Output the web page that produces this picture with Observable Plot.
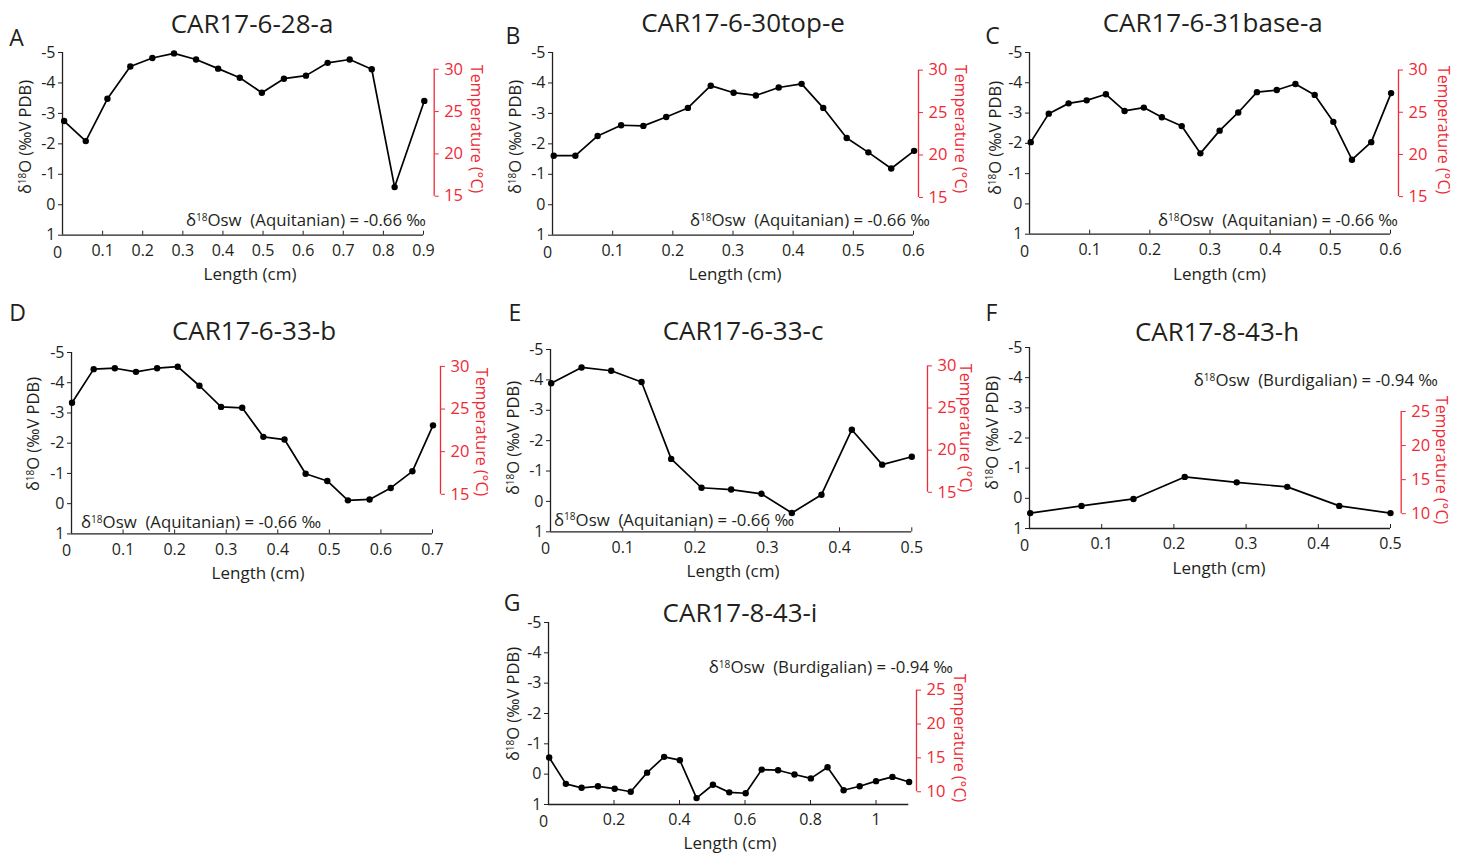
<!DOCTYPE html>
<html>
<head>
<meta charset="utf-8">
<script src="https://cdn.jsdelivr.net/npm/d3@7"></script>
<script src="https://cdn.jsdelivr.net/npm/@observablehq/plot@0.6"></script>
<style>
  body { margin: 0; background: #fff; }
  #fig { position: relative; width: 1470px; height: 858px; overflow: hidden;
         font-family: "Open Sans", sans-serif; color: #231f20; }
  .t { position: absolute; white-space: nowrap; line-height: 1; }
  .c { transform: translate(-50%, -50%); }
  .l { transform: translate(0, -50%); }
  .r { transform: translate(-100%, -50%); }
  .up { transform: translate(-50%, -50%) rotate(-90deg); }
  .down { transform: translate(-50%, -50%) rotate(90deg); }
  .letter { font-size: 23px; }
  .title { font-size: 26px; }
  .lab { font-size: 17px; }
  .ylab { font-size: 16.5px; }
  .tlab { font-size: 16px; }
  .note { font-size: 16.8px; }
  .red { color: #ee2a36; }
  sup { font-size: 0.6em; vertical-align: baseline; position: relative; top: -0.5em; }
  svg { position: absolute; }
</style>
</head>
<body>
<div id="fig"></div>
<script>
// Stable-isotope profiles (δ18O, ‰ VPDB) along the length of each specimen (cm)
const lenA  = [0.004, 0.058, 0.112, 0.169, 0.224, 0.278, 0.333, 0.388, 0.442, 0.497, 0.552, 0.607, 0.661, 0.716, 0.771, 0.828, 0.902];
const d18oA = [-2.75, -2.09, -3.48, -4.54, -4.82, -4.97, -4.77, -4.47, -4.17, -3.68, -4.14, -4.24, -4.66, -4.77, -4.45, -0.58, -3.41];

const lenB  = [0.002, 0.038, 0.075, 0.114, 0.151, 0.189, 0.225, 0.263, 0.301, 0.338, 0.376, 0.414, 0.450, 0.489, 0.525, 0.563, 0.601];
const d18oB = [-1.61, -1.61, -2.26, -2.61, -2.59, -2.88, -3.18, -3.91, -3.68, -3.59, -3.85, -3.97, -3.18, -2.19, -1.72, -1.19, -1.77];

const lenC  = [0.002, 0.032, 0.065, 0.095, 0.127, 0.158, 0.190, 0.220, 0.253, 0.284, 0.316, 0.347, 0.378, 0.411, 0.442, 0.474, 0.505, 0.536, 0.568, 0.601];
const d18oC = [-2.04, -2.98, -3.32, -3.42, -3.62, -3.07, -3.18, -2.86, -2.57, -1.67, -2.42, -3.02, -3.69, -3.76, -3.96, -3.60, -2.71, -1.46, -2.04, -3.66];

const lenD  = [0.001, 0.043, 0.084, 0.125, 0.166, 0.206, 0.248, 0.290, 0.331, 0.372, 0.413, 0.454, 0.496, 0.536, 0.578, 0.619, 0.661, 0.701];
const d18oD = [-3.34, -4.45, -4.48, -4.36, -4.48, -4.53, -3.90, -3.20, -3.17, -2.21, -2.12, -0.99, -0.75, -0.11, -0.14, -0.52, -1.07, -2.59];

const lenE  = [0.001, 0.043, 0.084, 0.126, 0.167, 0.209, 0.250, 0.292, 0.334, 0.375, 0.417, 0.459, 0.500];
const d18oE = [-3.89, -4.41, -4.30, -3.93, -1.40, -0.45, -0.39, -0.25, 0.38, -0.22, -2.36, -1.21, -1.47];

const lenF  = [0.001, 0.072, 0.144, 0.215, 0.287, 0.357, 0.429, 0.500];
const d18oF = [0.49, 0.25, 0.02, -0.71, -0.53, -0.38, 0.25, 0.49];

const lenG  = [0.002, 0.053, 0.101, 0.151, 0.202, 0.251, 0.301, 0.353, 0.401, 0.452, 0.502, 0.552, 0.602, 0.651, 0.701, 0.751, 0.801, 0.852, 0.901, 0.950, 1.000, 1.050, 1.101];
const d18oG = [-0.55, 0.32, 0.45, 0.40, 0.48, 0.58, -0.05, -0.57, -0.46, 0.79, 0.35, 0.60, 0.63, -0.15, -0.13, 0.01, 0.14, -0.23, 0.53, 0.40, 0.23, 0.09, 0.26];

// Axis ticks
const d18oTicks = [-5, -4, -3, -2, -1, 0, 1];
const lenTicks09 = [0, 0.1, 0.2, 0.3, 0.4, 0.5, 0.6, 0.7, 0.8, 0.9];
const lenTicks06 = [0, 0.1, 0.2, 0.3, 0.4, 0.5, 0.6];
const lenTicks07 = [0, 0.1, 0.2, 0.3, 0.4, 0.5, 0.6, 0.7];
const lenTicks05 = [0, 0.1, 0.2, 0.3, 0.4, 0.5];
const lenTicks11 = [0, 0.2, 0.4, 0.6, 0.8, 1];
const tempTicksAquitanian = [15, 20, 25, 30];
const tempTicksBurdigalian = [10, 15, 20, 25];

// Temperature ↔ δ18O correspondence for each secondary axis: [temperature °C], [δ18O ‰]
const calA = {t: [15, 30], d: [-0.28, -4.45]};
const calB = {t: [15, 30], d: [-0.24, -4.42]};
const calC = {t: [15, 30], d: [-0.24, -4.42]};
const calD = {t: [15, 30], d: [-0.31, -4.54]};
const calE = {t: [15, 30], d: [-0.30, -4.46]};
const calF = {t: [10, 25], d: [0.51, -2.88]};
const calG = {t: [10, 25], d: [0.58, -2.77]};

// Specimen names and seawater δ18O notes
const names = ["CAR17-6-28-a", "CAR17-6-30top-e", "CAR17-6-31base-a", "CAR17-6-33-b", "CAR17-6-33-c", "CAR17-8-43-h", "CAR17-8-43-i"];
const letters = ["A", "B", "C", "D", "E", "F", "G"];
const noteAquitanian = "δ<sup>18</sup>Osw&nbsp; (Aquitanian) = -0.66 ‰";
const noteBurdigalian = "δ<sup>18</sup>Osw&nbsp; (Burdigalian) = -0.94 ‰";

const INK = "#231f20";
const RED = "#ee2a36";

// Page layout for each panel (pixels): plot frame [left, right, top, bottom], offset of the
// temperature axis, and centres of the surrounding labels.
const panels = [
  {len: lenA, d18o: d18oA, xMax: 0.9, xTicks: lenTicks09, tTicks: tempTicksAquitanian, cal: calA, note: noteAquitanian,
   frame: [62.3, 423.3, 52.3, 235], redDx: 10.7, letter: [16.5, 37], title: [252, 22.5], ylab: [25, 137], xlab: [250, 273], tlab: [477, 129], notePos: [426, 220, "r"]},
  {len: lenB, d18o: d18oB, xMax: 0.6, xTicks: lenTicks06, tTicks: tempTicksAquitanian, cal: calB, note: noteAquitanian,
   frame: [552.3, 913.3, 52.3, 235], redDx: 5, letter: [513, 35], title: [743, 22], ylab: [515, 137], xlab: [735, 273], tlab: [960.5, 129], notePos: [930, 220, "r"]},
  {len: lenC, d18o: d18oC, xMax: 0.6, xTicks: lenTicks06, tTicks: tempTicksAquitanian, cal: calC, note: noteAquitanian,
   frame: [1029, 1390, 52.3, 234], redDx: 8, letter: [992.5, 35], title: [1212.7, 22], ylab: [995, 137.5], xlab: [1219.5, 273], tlab: [1444, 130], notePos: [1398, 220, "r"]},
  {len: lenD, d18o: d18oD, xMax: 0.7, xTicks: lenTicks07, tTicks: tempTicksAquitanian, cal: calD, note: noteAquitanian,
   frame: [71, 432, 352.3, 533.7], redDx: 8, letter: [17.5, 311.5], title: [254, 330], ylab: [33, 434], xlab: [258, 572], tlab: [482, 431.7], notePos: [81, 522, "l"]},
  {len: lenE, d18o: d18oE, xMax: 0.5, xTicks: lenTicks05, tTicks: tempTicksAquitanian, cal: calE, note: noteAquitanian,
   frame: [550, 911.3, 348.7, 531], redDx: 15.7, letter: [515, 311.7], title: [743, 330], ylab: [513, 437.5], xlab: [733, 570], tlab: [965.7, 428.3], notePos: [554, 519.5, "l"]},
  {len: lenF, d18o: d18oF, xMax: 0.5, xTicks: lenTicks05, tTicks: tempTicksBurdigalian, cal: calF, note: noteBurdigalian,
   frame: [1029, 1390, 347.3, 528.3], redDx: 10.7, letter: [991.5, 312], title: [1217, 330.5], ylab: [992, 432.5], xlab: [1219, 566.7], tlab: [1441.7, 460], notePos: [1438, 380, "r"]},
  {len: lenG, d18o: d18oG, xMax: 1.1, xTicks: lenTicks11, tTicks: tempTicksBurdigalian, cal: calG, note: noteBurdigalian,
   frame: [547.7, 908, 621.7, 803.7], redDx: 7.7, letter: [512, 601.5], title: [740, 611.7], ylab: [513, 704], xlab: [730, 842], tlab: [960, 738.3], notePos: [953, 667, "r"]}
];

const fig = document.getElementById("fig");

function addText(html, [x, y], cls) {
  const el = document.createElement("div");
  el.className = "t " + cls;
  el.style.left = x + "px";
  el.style.top = y + "px";
  el.innerHTML = html;
  fig.appendChild(el);
}

panels.forEach((p, i) => {
  const mL = 45, mR = 55, mT = 12, mB = 32;
  const [fx0, fx1, fy0, fy1] = p.frame;
  const rows = p.len.map((x, k) => ({x, y: p.d18o[k]}));
  const {t, d} = p.cal;
  const toD = (v) => d[0] + (v - t[0]) * (d[1] - d[0]) / (t[1] - t[0]);
  const toT = (v) => t[0] + (v - d[0]) * (t[1] - t[0]) / (d[1] - d[0]);
  const tMin = d3.min(p.tTicks), tMax = d3.max(p.tTicks);

  const svg = Plot.plot({
    width: fx1 - fx0 + mL + mR,
    height: fy1 - fy0 + mT + mB,
    marginLeft: mL, marginRight: mR, marginTop: mT, marginBottom: mB,
    style: {fontFamily: "'Open Sans', sans-serif", fontSize: "16px", color: INK, background: "transparent", overflow: "visible"},
    x: {domain: [0, p.xMax]},
    y: {domain: [1, -5]},
    marks: [
      // δ18O axis (left)
      Plot.axisY(d18oTicks, {tickSize: 4, tickPadding: 3, tickFormat: (v) => String(v), fontSize: 16, color: INK, label: null}),
      // length axis: inward ticks, labels below
      Plot.axisX(p.xTicks.filter((v) => v !== 0), {tickSize: -4, tickPadding: 13.5, tickFormat: (v) => String(v), fontSize: 16, color: INK, label: null}),
      Plot.axisX([0], {tickSize: 0, tickPadding: 11, dx: -5, tickFormat: (v) => String(v), fontSize: 16, color: INK, label: null}),
      Plot.ruleX([0], {stroke: INK, strokeWidth: 1.3}),
      Plot.ruleY([1], {stroke: INK, strokeWidth: 1.3}),
      // temperature axis (right, offset from the frame)
      Plot.axisY(p.tTicks.map(toD), {anchor: "right", tickSize: 4, tickPadding: 6, dx: p.redDx,
        tickFormat: (v) => String(Math.round(toT(v))), fontSize: 16.5, color: RED, label: null}),
      Plot.ruleX([{x: p.xMax, y1: toD(tMin), y2: toD(tMax)}], {x: "x", y1: "y1", y2: "y2", dx: p.redDx, stroke: RED, strokeWidth: 1.3}),
      // profile
      Plot.line(rows, {x: "x", y: "y", stroke: "#000", strokeWidth: 1.7}),
      Plot.dot(rows, {x: "x", y: "y", r: 3.2, fill: "#000"})
    ]
  });
  svg.style.left = (fx0 - mL) + "px";
  svg.style.top = (fy0 - mT) + "px";
  fig.appendChild(svg);

  addText(letters[i], p.letter, "c letter");
  addText(names[i], p.title, "c title");
  addText("δ<sup>18</sup>O (‰V PDB)", p.ylab, "up ylab");
  addText("Length (cm)", p.xlab, "c lab");
  addText("Temperature (°C)", p.tlab, "down tlab red");
  addText(p.note, [p.notePos[0], p.notePos[1]], p.notePos[2] + " note");
});
</script>
</body>
</html>
